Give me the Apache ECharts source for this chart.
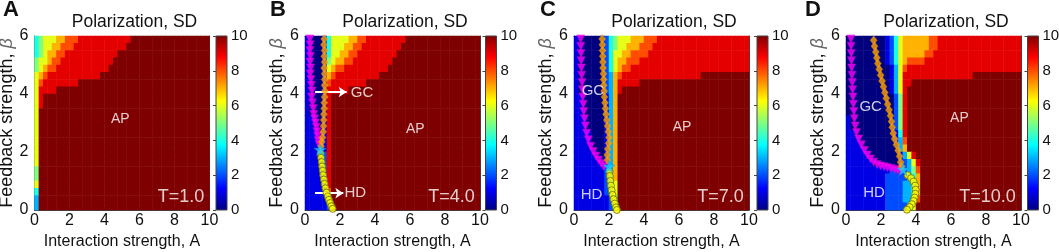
<!DOCTYPE html>
<html>
<head>
<meta charset="utf-8">
<script src="https://cdn.jsdelivr.net/npm/echarts@6/dist/echarts.min.js"></script>
<style>
  html, body { margin: 0; padding: 0; background: #fff; }
  #chart { width: 1059px; height: 252px; }
</style>
</head>
<body>
<div id="chart"></div>
<script>
// Polarization SD field.
// One string per row, from beta = 6 (top) down to beta = 0, each row 40 cells of 0.25 in A
// (groups of 4 = one unit of A). Digit = value, X = 10.
const fieldA = [
  '4566 6778 8899 9999 9999 99XX XXXX XXXX XXXX XXXX',
  '4566 7788 8999 9999 9999 9XXX XXXX XXXX XXXX XXXX',
  '4567 7889 9999 9999 999X XXXX XXXX XXXX XXXX XXXX',
  '5667 8899 9999 9999 99XX XXXX XXXX XXXX XXXX XXXX',
  '5678 8999 9999 9999 9XXX XXXX XXXX XXXX XXXX XXXX',
  '6789 9999 9999 999X XXXX XXXX XXXX XXXX XXXX XXXX',
  '6899 9999 99XX XXXX XXXX XXXX XXXX XXXX XXXX XXXX',
  '6999 9XXX XXXX XXXX XXXX XXXX XXXX XXXX XXXX XXXX',
  '69XX XXXX XXXX XXXX XXXX XXXX XXXX XXXX XXXX XXXX',
  '69XX XXXX XXXX XXXX XXXX XXXX XXXX XXXX XXXX XXXX',
  '6XXX XXXX XXXX XXXX XXXX XXXX XXXX XXXX XXXX XXXX',
  '6XXX XXXX XXXX XXXX XXXX XXXX XXXX XXXX XXXX XXXX',
  '6XXX XXXX XXXX XXXX XXXX XXXX XXXX XXXX XXXX XXXX',
  '6XXX XXXX XXXX XXXX XXXX XXXX XXXX XXXX XXXX XXXX',
  '6XXX XXXX XXXX XXXX XXXX XXXX XXXX XXXX XXXX XXXX',
  '6XXX XXXX XXXX XXXX XXXX XXXX XXXX XXXX XXXX XXXX',
  '6XXX XXXX XXXX XXXX XXXX XXXX XXXX XXXX XXXX XXXX',
  '6XXX XXXX XXXX XXXX XXXX XXXX XXXX XXXX XXXX XXXX',
  '5XXX XXXX XXXX XXXX XXXX XXXX XXXX XXXX XXXX XXXX',
  '5XXX XXXX XXXX XXXX XXXX XXXX XXXX XXXX XXXX XXXX',
  '6XXX XXXX XXXX XXXX XXXX XXXX XXXX XXXX XXXX XXXX',
  '4XXX XXXX XXXX XXXX XXXX XXXX XXXX XXXX XXXX XXXX',
  '3XXX XXXX XXXX XXXX XXXX XXXX XXXX XXXX XXXX XXXX',
  '3XXX XXXX XXXX XXXX XXXX XXXX XXXX XXXX XXXX XXXX'
];
const fieldB = [
  '1000 1466 6677 8899 9999 999X XXXX XXXX XXXX XXXX',
  '1000 1466 6778 8999 9999 99XX XXXX XXXX XXXX XXXX',
  '1000 1466 7788 9999 9999 9XXX XXXX XXXX XXXX XXXX',
  '1000 1567 7889 9999 9999 XXXX XXXX XXXX XXXX XXXX',
  '1000 1678 8999 9999 999X XXXX XXXX XXXX XXXX XXXX',
  '1000 1789 9999 9999 9XXX XXXX XXXX XXXX XXXX XXXX',
  '1000 1899 9999 99XX XXXX XXXX XXXX XXXX XXXX XXXX',
  '1000 1999 99XX XXXX XXXX XXXX XXXX XXXX XXXX XXXX',
  '1000 19XX XXXX XXXX XXXX XXXX XXXX XXXX XXXX XXXX',
  '1000 19XX XXXX XXXX XXXX XXXX XXXX XXXX XXXX XXXX',
  '1000 19XX XXXX XXXX XXXX XXXX XXXX XXXX XXXX XXXX',
  '1100 19XX XXXX XXXX XXXX XXXX XXXX XXXX XXXX XXXX',
  '1100 19XX XXXX XXXX XXXX XXXX XXXX XXXX XXXX XXXX',
  '1110 19XX XXXX XXXX XXXX XXXX XXXX XXXX XXXX XXXX',
  '1110 19XX XXXX XXXX XXXX XXXX XXXX XXXX XXXX XXXX',
  '1111 19XX XXXX XXXX XXXX XXXX XXXX XXXX XXXX XXXX',
  '1111 29XX XXXX XXXX XXXX XXXX XXXX XXXX XXXX XXXX',
  '1111 29XX XXXX XXXX XXXX XXXX XXXX XXXX XXXX XXXX',
  '1111 29XX XXXX XXXX XXXX XXXX XXXX XXXX XXXX XXXX',
  '1111 29XX XXXX XXXX XXXX XXXX XXXX XXXX XXXX XXXX',
  '1111 29XX XXXX XXXX XXXX XXXX XXXX XXXX XXXX XXXX',
  '1111 18XX XXXX XXXX XXXX XXXX XXXX XXXX XXXX XXXX',
  '1111 13XX XXXX XXXX XXXX XXXX XXXX XXXX XXXX XXXX',
  '1111 12XX XXXX XXXX XXXX XXXX XXXX XXXX XXXX XXXX'
];
const fieldC = [
  '1000 0002 4566 6777 8889 9999 9999 9999 9999 9999',
  '1000 0002 4566 7778 8899 9999 9999 9999 9999 9999',
  '1000 0002 4667 7888 8999 9999 9999 9999 9999 9999',
  '1000 0002 4677 8889 9999 9999 9999 9999 9999 9999',
  '1000 0002 4678 8999 9999 9999 9999 9999 9999 9999',
  '1000 0002 3789 9999 9999 9999 9999 9XXX XXXX XXXX',
  '1000 0002 3799 999X XXXX XXXX XXXX XXXX XXXX XXXX',
  '1000 0002 379X XXXX XXXX XXXX XXXX XXXX XXXX XXXX',
  '1100 0001 37XX XXXX XXXX XXXX XXXX XXXX XXXX XXXX',
  '1100 0001 37XX XXXX XXXX XXXX XXXX XXXX XXXX XXXX',
  '1100 0001 37XX XXXX XXXX XXXX XXXX XXXX XXXX XXXX',
  '1110 0001 37XX XXXX XXXX XXXX XXXX XXXX XXXX XXXX',
  '1110 0001 37XX XXXX XXXX XXXX XXXX XXXX XXXX XXXX',
  '1111 0001 37XX XXXX XXXX XXXX XXXX XXXX XXXX XXXX',
  '1111 0001 37XX XXXX XXXX XXXX XXXX XXXX XXXX XXXX',
  '1111 0001 37XX XXXX XXXX XXXX XXXX XXXX XXXX XXXX',
  '1111 1001 37XX XXXX XXXX XXXX XXXX XXXX XXXX XXXX',
  '1111 1101 37XX XXXX XXXX XXXX XXXX XXXX XXXX XXXX',
  '1111 1112 37XX XXXX XXXX XXXX XXXX XXXX XXXX XXXX',
  '1111 1112 37XX XXXX XXXX XXXX XXXX XXXX XXXX XXXX',
  '1111 1112 36XX XXXX XXXX XXXX XXXX XXXX XXXX XXXX',
  '1111 1112 36XX XXXX XXXX XXXX XXXX XXXX XXXX XXXX',
  '1111 1111 25XX XXXX XXXX XXXX XXXX XXXX XXXX XXXX',
  '1111 1111 24XX XXXX XXXX XXXX XXXX XXXX XXXX XXXX'
];
const fieldD = [
  '0000 0000 0124 6777 7778 8999 9999 9999 9999 9999',
  '0000 0000 0124 6777 7778 8999 9999 9999 9999 9999',
  '0000 0000 0124 6777 7788 9999 9999 9999 9999 9999',
  '0000 0000 0124 6788 8899 9999 9999 9999 9999 9999',
  '0000 0000 0013 6899 9999 9999 9999 9999 9999 9999',
  '0000 0000 0013 6999 9999 9999 9999 9XXX XXXX XXXX',
  '0000 0000 0013 699X XXXX XXXX XXXX XXXX XXXX XXXX',
  '0000 0000 0013 69XX XXXX XXXX XXXX XXXX XXXX XXXX',
  '0000 0000 0002 59XX XXXX XXXX XXXX XXXX XXXX XXXX',
  '0000 0000 0002 59XX XXXX XXXX XXXX XXXX XXXX XXXX',
  '0000 0000 0002 59XX XXXX XXXX XXXX XXXX XXXX XXXX',
  '1000 0000 0002 59XX XXXX XXXX XXXX XXXX XXXX XXXX',
  '1000 0000 0002 59XX XXXX XXXX XXXX XXXX XXXX XXXX',
  '1100 0000 0001 49XX XXXX XXXX XXXX XXXX XXXX XXXX',
  '1110 0000 0001 38XX XXXX XXXX XXXX XXXX XXXX XXXX',
  '1111 0000 0000 37XX XXXX XXXX XXXX XXXX XXXX XXXX',
  '1111 1000 0000 1369 XXXX XXXX XXXX XXXX XXXX XXXX',
  '1111 1100 0000 1236 9XXX XXXX XXXX XXXX XXXX XXXX',
  '1111 1111 1122 2235 8XXX XXXX XXXX XXXX XXXX XXXX',
  '1111 1111 1222 2234 7XXX XXXX XXXX XXXX XXXX XXXX',
  '1111 1111 1222 2334 7XXX XXXX XXXX XXXX XXXX XXXX',
  '1111 1111 1222 2334 7XXX XXXX XXXX XXXX XXXX XXXX',
  '1111 1111 1222 2334 8XXX XXXX XXXX XXXX XXXX XXXX',
  '1111 1111 1222 2236 XXXX XXXX XXXX XXXX XXXX XXXX'
];

// boundary markers [A, beta]
const magentaB = [[0.28,5.9],[0.3,5.7],[0.28,5.5],[0.31,5.3],[0.29,5.1],[0.32,4.9],[0.3,4.7],[0.34,4.5],[0.36,4.3],[0.4,4.1],[0.38,3.9],[0.43,3.7],[0.47,3.5],[0.5,3.3],[0.55,3.15],[0.6,3.0],[0.65,2.85],[0.68,2.7],[0.72,2.55],[0.75,2.4],[0.8,2.25]];
const orangeB = [[1.1,5.9],[1.08,5.7],[1.12,5.5],[1.1,5.3],[1.12,5.1],[1.1,4.9],[1.12,4.7],[1.13,4.5],[1.12,4.3],[1.14,4.1],[1.12,3.9],[1.1,3.7],[1.1,3.5],[1.08,3.3],[1.07,3.1],[1.06,2.9],[1.04,2.7],[1.0,2.5],[0.96,2.35],[0.92,2.2]];
const starB = [[0.86,2.08]];
const yellowB = [[0.9,1.95],[0.92,1.8],[0.95,1.65],[0.98,1.5],[1.01,1.35],[1.04,1.2],[1.08,1.05],[1.12,0.9],[1.17,0.75],[1.23,0.6],[1.3,0.47],[1.37,0.35],[1.44,0.24],[1.51,0.13],[1.58,0.04]];

const magentaC = [[0.38,5.9],[0.39,5.65],[0.4,5.4],[0.41,5.15],[0.42,4.9],[0.44,4.65],[0.46,4.4],[0.48,4.15],[0.5,3.9],[0.53,3.65],[0.56,3.4],[0.6,3.15],[0.65,2.9],[0.72,2.65],[0.82,2.42],[0.95,2.2],[1.1,2.02],[1.25,1.86],[1.4,1.72],[1.55,1.6],[1.7,1.5]];
const orangeC = [[1.61,5.9],[1.62,5.7],[1.63,5.5],[1.64,5.3],[1.65,5.1],[1.66,4.9],[1.68,4.7],[1.69,4.5],[1.7,4.3],[1.72,4.1],[1.74,3.9],[1.77,3.7],[1.8,3.5],[1.83,3.3],[1.87,3.1],[1.92,2.9],[1.96,2.7],[2.0,2.5],[1.98,2.3],[1.93,2.1],[1.9,1.9],[1.92,1.72]];
const starC = [[2.0,1.5]];
const yellowC = [[2.03,1.33],[2.05,1.17],[2.08,1.0],[2.11,0.84],[2.15,0.68],[2.2,0.52],[2.26,0.37],[2.33,0.22],[2.4,0.09],[2.45,0.0]];

const magentaD = [[0.28,5.9],[0.29,5.65],[0.3,5.4],[0.31,5.15],[0.32,4.9],[0.34,4.65],[0.36,4.4],[0.38,4.15],[0.4,3.9],[0.42,3.65],[0.45,3.4],[0.48,3.15],[0.53,2.9],[0.6,2.67],[0.72,2.45],[0.88,2.25],[1.05,2.06],[1.22,1.9],[1.4,1.76],[1.58,1.65],[1.78,1.57],[1.98,1.52],[2.18,1.49],[2.38,1.46],[2.58,1.43],[2.78,1.4],[2.96,1.37],[3.1,1.34]];
const orangeD = [[1.58,5.85],[1.63,5.65],[1.7,5.45],[1.76,5.25],[1.82,5.05],[1.9,4.85],[1.98,4.65],[2.06,4.45],[2.14,4.25],[2.22,4.05],[2.3,3.85],[2.38,3.65],[2.46,3.45],[2.54,3.25],[2.6,3.05],[2.64,2.85],[2.7,2.65],[2.78,2.45],[2.88,2.25],[2.98,2.05],[3.06,1.85],[3.12,1.65],[3.18,1.5]];
const starD = [[3.26,1.4]];
const yellowD = [[3.52,1.2],[3.72,1.1],[3.86,0.98],[3.95,0.84],[3.98,0.7],[3.96,0.56],[3.92,0.43],[3.86,0.31],[3.76,0.2],[3.64,0.1],[3.48,0.01]];

// region labels [text, A, beta]
const labelsA = [['AP', 4.9, 3.15], ['T=1.0', 9.7, 0.45]];
const labelsB = [['GC', 2.62, 4.05], ['HD', 2.25, 0.58], ['AP', 6.3, 2.8], ['T=4.0', 9.7, 0.45]];
const labelsC = [['GC', 1.08, 4.12], ['HD', 1.0, 0.52], ['AP', 6.17, 2.86], ['T=7.0', 9.7, 0.45]];
const labelsD = [['GC', 1.41, 3.55], ['HD', 1.6, 0.59], ['AP', 6.48, 3.18], ['T=10.0', 9.7, 0.45]];
const arrowsB = [[[0.57, 4.07], [2.38, 4.07]], [[0.57, 0.58], [2.19, 0.58]]];

const panelLetters = ['A', 'B', 'C', 'D'];
const xTicks = [0, 2, 4, 6, 8, 10];

const panels = [
  { field: fieldA, magenta: [], orange: [], star: [], yellow: [], labels: labelsA, arrows: [] },
  { field: fieldB, magenta: magentaB, orange: orangeB, star: starB, yellow: yellowB, labels: labelsB, arrows: arrowsB },
  { field: fieldC, magenta: magentaC, orange: orangeC, star: starC, yellow: yellowC, labels: labelsC, arrows: [] },
  { field: fieldD, magenta: magentaD, orange: orangeD, star: starD, yellow: yellowD, labels: labelsD, arrows: [] }
];

const FONT = '"Liberation Sans", Arial, Helvetica, sans-serif';
const plotLeft = [34.5, 305, 574, 846];
const barLeft = [216, 485.5, 757, 1027.5];
const letterLeft = [3, 270, 540, 805];
const PLOT_TOP = 36, PLOT_W = 175, PLOT_H = 174;
const jet = ['#00007F', '#0000FF', '#007FFF', '#00FFFF', '#7FFF7F', '#FFFF00', '#FF7F00', '#FF0000', '#7F0000'];
const jetGradient = {
  type: 'linear', x: 0, y: 1, x2: 0, y2: 0,
  colorStops: jet.map((c, k) => ({ offset: k / 8, color: c }))
};
const starPath = 'path://M50,0 L61,35 L98,35 L68,57 L79,91 L50,70 L21,91 L32,57 L2,35 L39,35 Z';

function parseField(rows) {
  const out = [];
  rows.forEach((r, i) => {
    const cells = r.replace(/ /g, '');
    for (let j = 0; j < cells.length; j++) {
      const c = cells[j];
      out.push([j, rows.length - 1 - i, c === 'X' ? 10 : Number(c)]);
    }
  });
  return out;
}

const colIds = fieldA[0].replace(/ /g, '').split('').map((_, j) => j);
const rowIds = fieldA.map((_, i) => i);

const axisLine = { show: true, onZero: false, lineStyle: { color: '#444', width: 1 } };
const axisTick = { show: true, inside: true, length: 3, lineStyle: { color: '#444' } };
const tickFont = { fontSize: 16, color: '#111', fontFamily: FONT };
const barFont = { fontSize: 15, color: '#111', fontFamily: FONT };

const grid = [], xAxis = [], yAxis = [], series = [], graphic = [];
const heatIdx = [];

panels.forEach((p, k) => {
  grid.push({ left: plotLeft[k], top: PLOT_TOP, width: PLOT_W, height: PLOT_H, outerBoundsMode: 'none', containLabel: false });
  grid.push({ left: barLeft[k], top: PLOT_TOP, width: 11, height: PLOT_H, outerBoundsMode: 'none', containLabel: false,
    show: true, backgroundColor: jetGradient, borderColor: '#444', borderWidth: 1 });

  xAxis.push({ type: 'category', gridIndex: 2 * k, data: colIds, show: false });
  xAxis.push({ type: 'value', gridIndex: 2 * k, position: 'bottom', min: 0, max: 10, interval: 2,
    axisLine, axisTick, splitLine: { show: false },
    axisLabel: Object.assign({ margin: 3, formatter: v => xTicks.includes(v) ? String(v) : '' }, tickFont),
    name: 'Interaction strength, A', nameLocation: 'middle', nameGap: 21,
    nameTextStyle: { fontSize: 16, color: '#111', fontFamily: FONT } });
  xAxis.push({ type: 'value', gridIndex: 2 * k, position: 'top', min: 0, max: 10, interval: 2,
    axisLine, axisTick, axisLabel: { show: false }, splitLine: { show: false } });
  xAxis.push({ type: 'value', gridIndex: 2 * k + 1, min: 0, max: 1, show: false });

  yAxis.push({ type: 'category', gridIndex: 2 * k, data: rowIds, show: false });
  yAxis.push({ type: 'value', gridIndex: 2 * k, position: 'left', min: 0, max: 6, interval: 2,
    axisLine, axisTick, splitLine: { show: false },
    axisLabel: Object.assign({ margin: 6 }, tickFont),
    name: 'Feedback strength, {b|β}', nameLocation: 'middle', nameGap: 15, nameRotate: 90,
    nameTextStyle: { fontSize: 18, color: '#111', fontFamily: FONT,
      rich: { b: { fontSize: 18, fontStyle: 'italic', color: '#666', fontFamily: FONT } } } });
  yAxis.push({ type: 'value', gridIndex: 2 * k, position: 'right', min: 0, max: 6, interval: 2,
    axisLine, axisTick, axisLabel: { show: false }, splitLine: { show: false } });
  yAxis.push({ type: 'value', gridIndex: 2 * k + 1, position: 'right', min: 0, max: 10, interval: 2,
    axisLine: { show: false }, axisTick, splitLine: { show: false },
    axisLabel: Object.assign({ margin: 4 }, barFont) });

  heatIdx.push(series.length);
  series.push({ type: 'heatmap', xAxisIndex: 4 * k, yAxisIndex: 4 * k, data: parseField(p.field),
    silent: true, progressive: 0 });

  const xi = 4 * k + 1, yi = 4 * k + 1;
  if (p.arrows.length) {
    series.push({ type: 'lines', coordinateSystem: 'cartesian2d', xAxisIndex: xi, yAxisIndex: yi,
      data: p.arrows.map(c => ({ coords: c })), symbol: ['none', 'arrow'], symbolSize: 8,
      lineStyle: { color: '#fff', width: 2, opacity: 1 }, silent: true, z: 3 });
  }
  if (p.magenta.length) {
    series.push({ type: 'scatter', xAxisIndex: xi, yAxisIndex: yi, data: p.magenta, symbol: 'triangle',
      symbolRotate: 180, symbolSize: 8, itemStyle: { color: '#ff00ff', borderColor: '#d000d0', borderWidth: 0.5 },
      silent: true, z: 3 });
    series.push({ type: 'scatter', xAxisIndex: xi, yAxisIndex: yi, data: p.orange, symbol: 'diamond',
      symbolSize: [7, 9], itemStyle: { color: '#ffa500', borderColor: '#ee9000', borderWidth: 0.4 },
      silent: true, z: 3 });
    series.push({ type: 'scatter', xAxisIndex: xi, yAxisIndex: yi, data: p.yellow, symbol: 'circle',
      symbolSize: 7, itemStyle: { color: '#ffff00', borderColor: '#6b6b00', borderWidth: 1 },
      silent: true, z: 3 });
    series.push({ type: 'scatter', xAxisIndex: xi, yAxisIndex: yi, data: p.star, symbol: starPath,
      symbolSize: 12, itemStyle: { color: '#22ccff', borderColor: '#0099cc', borderWidth: 0.5 },
      silent: true, z: 4 });
  }
  series.push({ type: 'scatter', xAxisIndex: xi, yAxisIndex: yi, symbolSize: 0, silent: true, z: 5,
    data: p.labels.map(l => {
      const isT = l[0].indexOf('T=') === 0;
      const leftAligned = p.arrows.length && (l[0] === 'GC' || l[0] === 'HD');
      return { name: l[0], value: [l[1], l[2]],
        label: { align: isT ? 'right' : (leftAligned ? 'left' : 'center'), fontSize: isT ? 18 : (l[0] === 'AP' ? 14 : 15) } };
    }),
    label: { show: true, position: 'inside', formatter: '{b}', color: '#fff', fontFamily: FONT, verticalAlign: 'middle' } });

  graphic.push({ type: 'text', x: plotLeft[k] + 100, y: 13,
    style: { text: 'Polarization, SD', fontSize: 17.5, fontFamily: FONT, fill: '#111',
      align: 'center', textAlign: 'center', verticalAlign: 'top', textVerticalAlign: 'top' } });
  graphic.push({ type: 'text', x: letterLeft[k], y: -1,
    style: { text: panelLetters[k], fontSize: 22, fontWeight: 'bold', fontFamily: FONT, fill: '#111',
      align: 'left', textAlign: 'left', verticalAlign: 'top', textVerticalAlign: 'top' } });
});

const chart = echarts.init(document.getElementById('chart'));
chart.setOption({
  animation: false,
  backgroundColor: '#fff',
  grid, xAxis, yAxis, series, graphic,
  visualMap: { show: false, type: 'continuous', min: 0, max: 10, dimension: 2,
    seriesIndex: heatIdx, inRange: { color: jet } }
});
</script>
</body>
</html>
